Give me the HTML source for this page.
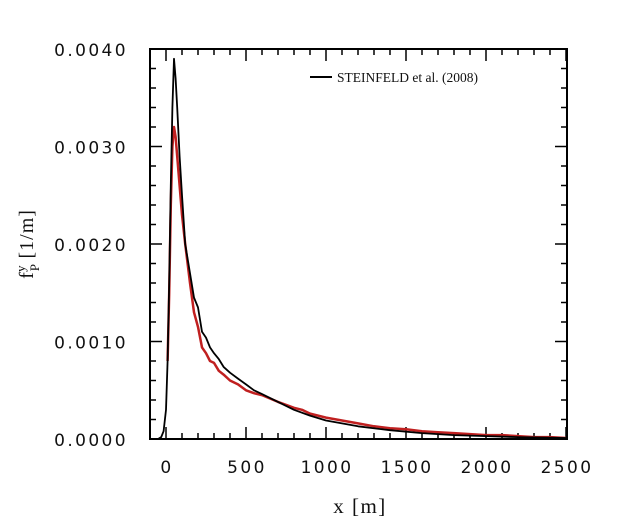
<!DOCTYPE html>
<html><head><meta charset="utf-8"><style>
html,body{margin:0;padding:0;background:#fff}
svg{display:block}
.tk{font-family:"DejaVu Sans","Liberation Sans",sans-serif;font-size:17px;letter-spacing:2.4px;fill:#111}
.ser{font-family:"Liberation Serif",serif;fill:#111}
</style></head><body>
<svg id="chart" width="640" height="529" viewBox="0 0 640 529" xmlns="http://www.w3.org/2000/svg">
<g id="ticks"></g>
<g id="series"></g>
<rect x="150" y="49" width="417" height="390" fill="none" stroke="#000" stroke-width="2"/>
<g>
<line x1="310" y1="77" x2="332" y2="77" stroke="#000" stroke-width="2"/>
<text class="ser" x="337" y="82" font-size="13.5">STEINFELD et al. (2008)</text>
</g>
<text class="ser" x="360" y="513" font-size="21" letter-spacing="1.5" text-anchor="middle">x [m]</text>
<g transform="translate(33,244) rotate(-90)">
<text class="ser" x="0" y="0" font-size="20" letter-spacing="1" text-anchor="middle">f<tspan font-size="13" dy="6">P</tspan><tspan font-size="13" dx="-9" dy="-14">y</tspan><tspan dy="8"> [1/m]</tspan></text>
</g>
</svg>
<script>
const xTicks=[0,500,1000,1500,2000,2500];
const yTicks=[0,0.001,0.002,0.003,0.004];
const yTickLabels=["0.0000","0.0010","0.0020","0.0030","0.0040"];
const steinX=[-100,-50,-30,-15,0,10,20,30,40,50,60,70,85,100,120,150,175,200,225,250,275,300,330,360,400,450,500,550,600,700,800,900,1000,1200,1400,1600,1800,2000,2200,2500];
const steinY=[0,0,0.00002,0.00008,0.0003,0.0008,0.0016,0.0026,0.0034,0.0039,0.0037,0.0034,0.0029,0.0025,0.0020,0.0017,0.00145,0.00135,0.00110,0.00104,0.00094,0.00088,0.00082,0.00074,0.00068,0.00062,0.00056,0.00050,0.00046,0.00038,0.00030,0.00024,0.00019,0.00013,0.00009,0.00006,0.00004,0.00003,0.00002,0.00001];
const modelX=[10,20,30,40,50,60,70,85,100,120,150,175,200,225,250,275,300,330,360,400,450,500,550,600,700,800,850,900,1000,1100,1200,1300,1400,1500,1600,1700,1800,1900,2000,2100,2200,2300,2400,2500];
const modelY=[0.0008,0.0015,0.0024,0.0030,0.0032,0.0031,0.0029,0.0026,0.0023,0.0020,0.0016,0.0013,0.00115,0.00094,0.00088,0.00080,0.00078,0.00070,0.00066,0.00060,0.00056,0.00050,0.00047,0.00045,0.00038,0.00032,0.00030,0.00026,0.00022,0.00019,0.00016,0.00013,0.00011,0.00010,0.00008,0.00007,0.00006,0.00005,0.00004,0.00004,0.00003,0.00002,0.00002,0.00001];
const X=v=>166+v*0.16;
const Y=v=>439-v*97500;
const NS="http://www.w3.org/2000/svg";
const tg=document.getElementById('ticks');
function ln(x1,y1,x2,y2,name){const l=document.createElementNS(NS,'line');l.setAttribute('x1',x1);l.setAttribute('y1',y1);l.setAttribute('x2',x2);l.setAttribute('y2',y2);l.setAttribute('stroke','#000');l.setAttribute('stroke-width','1.5');


tg.appendChild(l);}
for(let v=-100;v<=2500;v+=100){const maj=v%500===0;const L=maj?12:6;ln(X(v),439,X(v),439-L,'x-tick');ln(X(v),49,X(v),49+L,'x-tick-top');}
for(let i=0;i<=20;i++){const v=i*0.0002;const maj=i%5===0;const L=maj?12:6;ln(150,Y(v),150+L,Y(v),'y-tick');ln(567,Y(v),567-L,Y(v),'y-tick-right');}
xTicks.forEach(v=>{const t=document.createElementNS(NS,'text');t.setAttribute('class','tk');t.setAttribute('x',X(v)+1);t.setAttribute('y',473);t.setAttribute('text-anchor','middle');t.textContent=v;


tg.appendChild(t);});
yTicks.forEach((v,i)=>{const t=document.createElementNS(NS,'text');t.setAttribute('class','tk');t.setAttribute('x',128);t.setAttribute('y',Y(v)+7);t.setAttribute('text-anchor','end');t.textContent=yTickLabels[i];


tg.appendChild(t);});
const sg=document.getElementById('series');
function path(xs,ys,color,w,name){const p=document.createElementNS(NS,'path');p.setAttribute('d',xs.map((x,i)=>(i?'L':'M')+X(x).toFixed(1)+','+Y(ys[i]).toFixed(1)).join(''));p.setAttribute('fill','none');p.setAttribute('stroke',color);p.setAttribute('stroke-width',w);p.setAttribute('stroke-linejoin','round');


sg.appendChild(p);}
path(modelX,modelY,'#c02020',2.5,'model-series-line');
path(steinX,steinY,'#000',1.8,'steinfeld-2008-line');
</script>
</body></html>
